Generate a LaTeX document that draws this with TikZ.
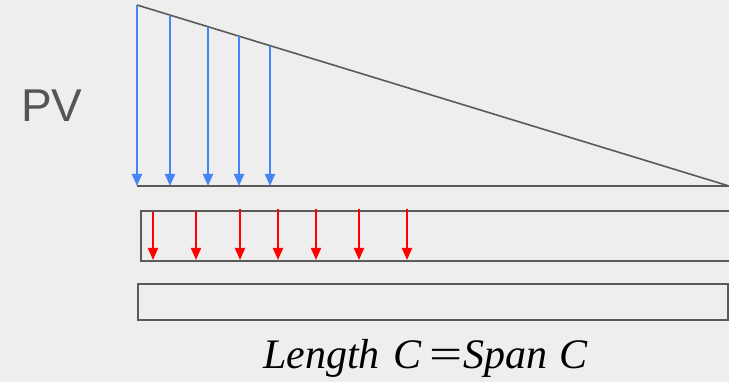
\documentclass[tikz,border=0pt]{standalone}
\usepackage{fontspec}
\setmainfont{Liberation Serif}
\newfontfamily\pvfont{Liberation Sans}
\usetikzlibrary{arrows.meta}
\definecolor{bg}{HTML}{EEEEEE}
\definecolor{edge}{HTML}{5A5A5A}
\definecolor{gblue}{HTML}{4285F4}
\definecolor{txtgray}{HTML}{555555}
\tikzset{
  outline/.style={draw=edge, line width=1.6pt},
  bluearrow/.style={draw=gblue, line width=1.8pt, -{Triangle[length=12pt,width=10pt]}},
  redarrow/.style={draw=red, line width=1.8pt, -{Triangle[length=12pt,width=10pt]}},
  eqtext/.style={font=\fontsize{42}{42}\selectfont\itshape, anchor=base west, inner sep=0pt},
}
\begin{document}
\begin{tikzpicture}[x=1pt,y=-1pt]
\fill[bg] (0,0) rectangle (729,382);
\useasboundingbox (0,0) rectangle (729,382);
\clip (0,0) rectangle (729,382);
% triangle
\coordinate (A) at (137,5);
\coordinate (B) at (137,186);
\coordinate (C) at (729,186);
\draw[outline] (A) -- (C);
\draw[outline] (B) -- (C);
% blue arrows
\foreach \x [count=\i] in {137,170,208,239,270}{
  \coordinate (bt\i) at (\x,{5+(\x-137)*0.30574});
  \coordinate (bb\i) at (\x,186);
  \draw[bluearrow] (bt\i) -- (bb\i);
}
% middle strip (open on the right)
\coordinate (m1) at (760,211);
\coordinate (m2) at (141,211);
\coordinate (m3) at (141,261);
\coordinate (m4) at (760,261);
\draw[outline] (m1) -- (m2) -- (m3) -- (m4);
% red arrows
\foreach \x/\t [count=\i] in {153/212,196/211,240/209,278/209,316/209,359/209,407/209}{
  \coordinate (rt\i) at (\x,\t);
  \coordinate (rb\i) at (\x,260);
  \draw[redarrow] (rt\i) -- (rb\i);
}
% bottom rectangle
\node[outline, draw, minimum width=590pt, minimum height=36pt, inner sep=0pt, anchor=north west] (bottom) at (137,283) {};
% labels
\node[text=txtgray, font=\pvfont\fontsize{46}{46}\selectfont, anchor=base west, inner sep=0pt] (pv) at (21,122) {PV};
\node[eqtext] (w1) at (263,368) {Length};
\node[eqtext] (w2) at (393,368) {C};
\node[eqtext, font=\fontsize{42}{42}\selectfont] (w3) at (429,368) {\scalebox{1.4}[1]{=}};
\node[eqtext] (w4) at (463,368) {Span};
\node[eqtext] (w5) at (559,368) {C};
\end{tikzpicture}
\end{document}
